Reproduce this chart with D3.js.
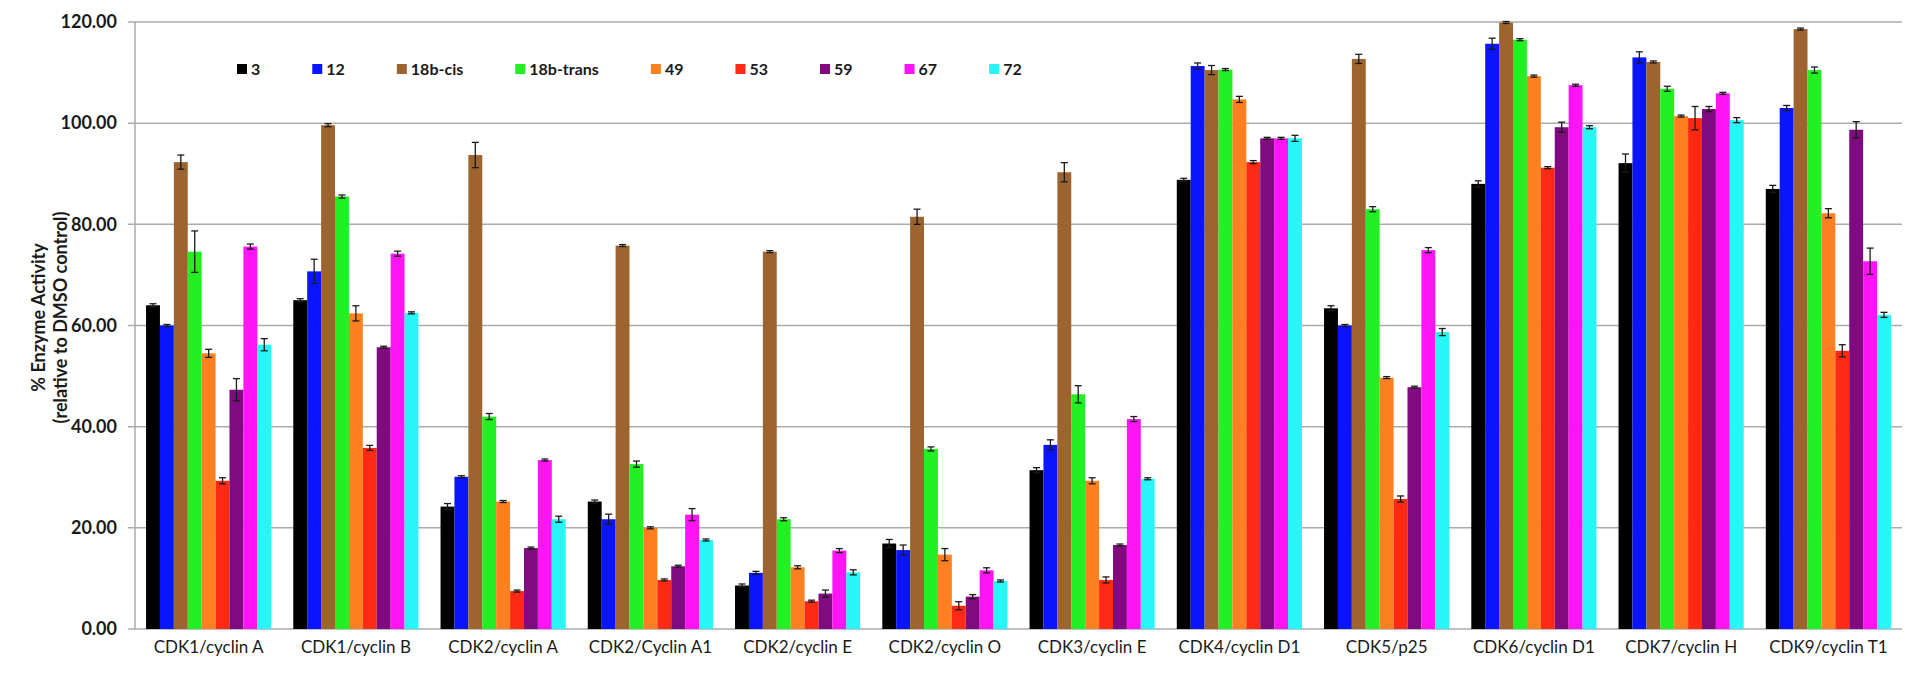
<!DOCTYPE html>
<html lang="en">
<head>
<meta charset="UTF-8">
<title>% Enzyme Activity</title>
<script src="https://d3js.org/d3.v7.min.js"></script>
<style>
  body { margin: 0; background: #fff; }
  text { font-family: Lato, "Liberation Sans", sans-serif; fill: #1a1a1a; }
</style>
</head>
<body>
<div id="chart"></div>
<script>
// categories and series
var categories = ["CDK1/cyclin A", "CDK1/cyclin B", "CDK2/cyclin A", "CDK2/Cyclin A1", "CDK2/cyclin E",
  "CDK2/cyclin O", "CDK3/cyclin E", "CDK4/cyclin D1", "CDK5/p25", "CDK6/cyclin D1", "CDK7/cyclin H", "CDK9/cyclin T1"];
var seriesNames = ["3", "12", "18b-cis", "18b-trans", "49", "53", "59", "67", "72"];
var seriesColors = ["#000000", "#0a14ff", "#9e6430", "#22f022", "#ff8020", "#ff2a14", "#800a80", "#ff14f5", "#28f5f5"];

// values (% activity), one array per compound
var v3  = [64.0, 65.0, 24.2, 25.2, 8.6, 16.9, 31.4, 88.8, 63.4, 88.0, 92.1, 87.0];
var v12 = [60.0, 70.7, 30.1, 21.7, 11.1, 15.6, 36.4, 111.3, 60.0, 115.7, 113.0, 103.0];
var v18cis = [92.3, 99.6, 93.7, 75.8, 74.6, 81.5, 90.3, 110.5, 112.7, 119.9, 112.1, 118.6];
var v18trans = [74.6, 85.5, 42.0, 32.6, 21.7, 35.6, 46.4, 110.6, 83.0, 116.5, 106.8, 110.5];
var v49 = [54.5, 62.4, 25.2, 20.0, 12.2, 14.7, 29.3, 104.7, 49.7, 109.3, 101.4, 82.2];
var v53 = [29.3, 35.8, 7.5, 9.7, 5.5, 4.6, 9.7, 92.3, 25.7, 91.2, 101.0, 55.0];
var v59 = [47.3, 55.7, 16.0, 12.4, 7.0, 6.4, 16.6, 97.0, 47.8, 99.2, 102.8, 98.7];
var v67 = [75.6, 74.2, 33.4, 22.6, 15.5, 11.6, 41.5, 97.0, 74.9, 107.5, 105.9, 72.7];
var v72 = [56.2, 62.5, 21.7, 17.6, 11.2, 9.5, 29.7, 97.0, 58.7, 99.2, 100.6, 62.1];

// error bars (+/-)
var e3  = [0.3, 0.3, 0.6, 0.3, 0.3, 0.8, 0.5, 0.3, 0.5, 0.6, 1.8, 0.7];
var e12 = [0.2, 2.4, 0.2, 1.0, 0.3, 1.0, 1.0, 0.6, 0.2, 1.1, 1.1, 0.5];
var e18cis = [1.4, 0.3, 2.5, 0.2, 0.2, 1.5, 1.9, 0.9, 0.9, 0.2, 0.2, 0.2];
var e18trans = [4.1, 0.3, 0.6, 0.6, 0.3, 0.4, 1.7, 0.2, 0.5, 0.2, 0.5, 0.6];
var e49 = [0.8, 1.5, 0.2, 0.2, 0.3, 1.2, 0.6, 0.6, 0.2, 0.2, 0.2, 0.9];
var e53 = [0.6, 0.5, 0.2, 0.2, 0.2, 0.8, 0.6, 0.3, 0.6, 0.2, 2.3, 1.2];
var e59 = [2.2, 0.2, 0.2, 0.2, 0.7, 0.4, 0.2, 0.2, 0.2, 1.0, 0.5, 1.6];
var e67 = [0.5, 0.5, 0.2, 1.2, 0.4, 0.5, 0.5, 0.2, 0.5, 0.2, 0.2, 2.6];
var e72 = [1.2, 0.2, 0.6, 0.2, 0.5, 0.2, 0.2, 0.6, 0.7, 0.3, 0.5, 0.5];

var yTicks = [0, 20, 40, 60, 80, 100, 120];

var allValues = [v3, v12, v18cis, v18trans, v49, v53, v59, v67, v72];
var allErrors = [e3, e12, e18cis, e18trans, e49, e53, e59, e67, e72];

// flat table for drawing
var rows = [];
categories.forEach(function(c, ci) {
  seriesNames.forEach(function(s, si) {
    rows.push({cat: c, series: s, value: allValues[si][ci], err: allErrors[si][ci], color: seriesColors[si]});
  });
});

var W = 1920, H = 679;
var margin = {top: 22, right: 18, bottom: 50, left: 135};
var width = W - margin.left - margin.right,
    height = H - margin.top - margin.bottom;

var svg = d3.select("#chart").append("svg")
    .attr("width", W).attr("height", H)
  .append("g")
    .attr("transform", "translate(" + margin.left + "," + margin.top + ")");

var x0 = d3.scaleBand().domain(categories).range([0, width])
    .paddingInner(0.15).paddingOuter(0.075);
var x1 = d3.scaleBand().domain(seriesNames).range([0, x0.bandwidth()]);
var y = d3.scaleLinear().domain([0, 120]).range([height, 0]);

// gridlines
svg.append("g").selectAll("line").data(yTicks).enter().append("line")
  .attr("x1", -7).attr("x2", width)
  .attr("y1", function(d) { return y(d); }).attr("y2", function(d) { return y(d); })
  .style("stroke", "#ababab").style("stroke-width", 1.5);

// y axis line
svg.append("line").attr("x1", 0).attr("x2", 0).attr("y1", 0).attr("y2", height)
  .style("stroke", "#ababab").style("stroke-width", 1.5);

// y tick labels
svg.append("g").selectAll("text").data(yTicks).enter().append("text")
  .attr("x", -18).attr("y", function(d) { return y(d); })
  .attr("dy", "0.35em")
  .style("text-anchor", "end").style("font-size", "18px").style("font-weight", "bold")
  .text(function(d) { return d3.format(".2f")(d); });

// bars
svg.append("g").selectAll("rect").data(rows).enter().append("rect")
  .attr("x", function(d) { return x0(d.cat) + x1(d.series); })
  .attr("width", x1.bandwidth())
  .attr("y", function(d) { return y(d.value); })
  .attr("height", function(d) { return height - y(d.value); })
  .style("fill", function(d) { return d.color; });

// error bars
var eb = svg.append("g").selectAll("g").data(rows).enter().append("g")
  .attr("transform", function(d) { return "translate(" + (x0(d.cat) + x1(d.series) + x1.bandwidth() / 2) + ",0)"; });
eb.append("line")
  .attr("y1", function(d) { return y(d.value + d.err); })
  .attr("y2", function(d) { return y(d.value - d.err); })
  .style("stroke", "#1a1a1a").style("stroke-width", 1.3);
eb.append("line").attr("x1", -3.5).attr("x2", 3.5)
  .attr("y1", function(d) { return y(d.value + d.err); })
  .attr("y2", function(d) { return y(d.value + d.err); })
  .style("stroke", "#1a1a1a").style("stroke-width", 1.3);
eb.append("line").attr("x1", -3.5).attr("x2", 3.5)
  .attr("y1", function(d) { return y(d.value - d.err); })
  .attr("y2", function(d) { return y(d.value - d.err); })
  .style("stroke", "#1a1a1a").style("stroke-width", 1.3);

// category labels
svg.append("g").selectAll("text").data(categories).enter().append("text")
  .attr("x", function(d) { return x0(d) + x0.bandwidth() / 2; })
  .attr("y", height + 24)
  .style("text-anchor", "middle").style("font-size", "17px")
  .text(function(d) { return d; });

// y axis title
var yt = svg.append("text")
  .attr("transform", "translate(" + (-90) + "," + (height / 2 - 8) + ") rotate(-90)")
  .style("text-anchor", "middle").style("font-size", "18px").style("font-weight", "bold");
yt.append("tspan").attr("x", 0).attr("dy", "0em").text("% Enzyme Activity");
yt.append("tspan").attr("x", 0).attr("dy", "1.2em").text("(relative to DMSO control)");

// legend
var legend = svg.append("g").attr("transform", "translate(102,47)");
var lx = 0;
seriesNames.forEach(function(s, i) {
  var g = legend.append("g").attr("transform", "translate(" + lx + ",0)");
  g.append("rect").attr("x", 0).attr("y", -5).attr("width", 10).attr("height", 10)
    .style("fill", seriesColors[i]);
  var t = g.append("text").attr("x", 14).attr("y", 0).attr("dy", "0.35em")
    .style("font-size", "16px").style("font-weight", "bold").text(s);
  lx += 14 + t.node().getComputedTextLength() + 52;
});
</script>
</body>
</html>
